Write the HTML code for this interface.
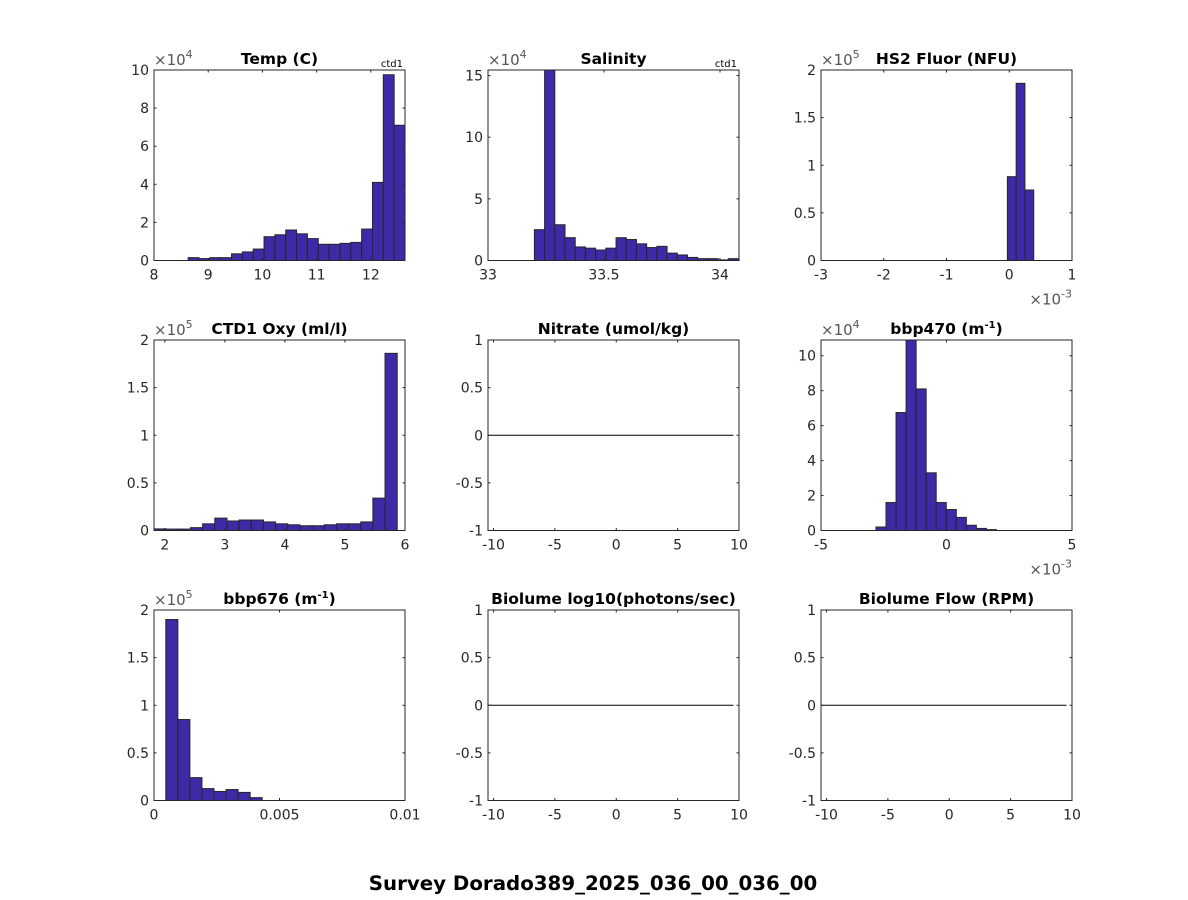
<!DOCTYPE html>
<html><head><meta charset="utf-8"><style>
body{margin:0;background:#fff;}
svg{display:block;font-family:"DejaVu Sans","Liberation Sans",sans-serif;}
</style></head><body>
<svg id="fig" width="1188" height="900" viewBox="0 0 1188 900" xmlns="http://www.w3.org/2000/svg">
<rect width="1188" height="900" fill="#fff"/>
<text x="593" y="890" text-anchor="middle" font-size="19.8" font-weight="bold" fill="#000">Survey Dorado389_2025_036_00_036_00</text>
</svg>
<script>
// ---- data ----
const tempStart = 8.63, tempWidth = 0.2;
const tempCounts = [0.15,0.1,0.15,0.15,0.35,0.45,0.6,1.25,1.35,1.6,1.4,1.15,0.85,0.85,0.9,0.95,1.65,4.1,9.75,7.1];
const salStart = 33.2, salWidth = 0.044;
const salCounts = [2.5,15.45,2.9,1.85,1.1,1.0,0.85,1.0,1.85,1.7,1.35,1.05,1.15,0.6,0.45,0.25,0.15,0.15,0.05,0.15];
const fluorStart = -0.03, fluorWidth = 0.14;
const fluorCounts = [0.88,1.86,0.74];
const oxyStart = 1.82, oxyWidth = 0.2025;
const oxyCounts = [0.017,0.015,0.015,0.03,0.07,0.13,0.1,0.11,0.11,0.09,0.07,0.06,0.05,0.05,0.06,0.07,0.07,0.09,0.34,1.86];
const b470Start = -2.81, b470Width = 0.4;
const b470Counts = [0.2,1.6,6.75,10.9,8.1,3.3,1.6,1.2,0.75,0.3,0.12,0.05];
const b676Start = 0.47, b676Width = 0.48;
const b676Counts = [1.9,0.85,0.24,0.125,0.095,0.115,0.085,0.03];
const tempXTicks = ["8","9","10","11","12"];
const salXTicks = ["33","33.5","34"];
const fluorXTicks = ["-3","-2","-1","0","1"];
const oxyXTicks = ["2","3","4","5","6"];
const b470XTicks = ["-5","0","5"];
const b676XTicks = ["0","0.005","0.01"];
const emptyXTicks = ["-10","-5","0","5","10"];
const y10Ticks = ["0","2","4","6","8","10"];
const y15Ticks = ["0","5","10","15"];
const y2Ticks = ["0","0.5","1","1.5","2"];
const yEmptyTicks = ["-1","-0.5","0","0.5","1"];

const NS="http://www.w3.org/2000/svg";
const svg=document.getElementById('fig');
function mk(tag,attrs,parent){const e=document.createElementNS(NS,tag);for(const k in attrs)e.setAttribute(k,attrs[k]);(parent||svg).appendChild(e);return e;}

const cols=[154,488,821], rows=[70,340,610], W=251, H=190.5;

function panel(o){
  const L=cols[o.c], T=rows[o.r], R=L+W, B=T+H;
  const g=mk('g',{});
  
  
  const sx=v=>L+(v-o.xmin)/(o.xmax-o.xmin)*W;
  const sy=v=>B-(v-o.ymin)/(o.ymax-o.ymin)*H;
  mk('rect',{x:L,y:T,width:W,height:H,fill:'#fff'},g);
  if(o.counts){
    o.counts.forEach((c,i)=>{
      const x0=sx(o.start+i*o.width), x1=sx(o.start+(i+1)*o.width);
      const y=sy(Math.min(c,o.ymax));
      const r=mk('rect',{x:x0,y:y,width:x1-x0,height:B-y,fill:'#3d2aa7',stroke:'#262626','stroke-width':1},g);
      
      
    });
  }
  if(o.empty){
    const ln=mk('line',{x1:sx(-10.45),x2:sx(9.55),y1:sy(0),y2:sy(0),stroke:'#000','stroke-width':1},g);
    
    
  }
  mk('rect',{x:L,y:T,width:W,height:H,fill:'none',stroke:'#262626','stroke-width':1},g);
  o.xticks.forEach(t=>{
    const v=parseFloat(t)*(o.xscale||1), x=sx(v);
    mk('line',{x1:x,x2:x,y1:B,y2:B-2.5,stroke:'#262626'},g);
    mk('line',{x1:x,x2:x,y1:T,y2:T+2.5,stroke:'#262626'},g);
    const tx=mk('text',{x:x,y:B+19,'text-anchor':'middle','font-size':14,fill:'#262626'},g);
    tx.textContent=t;
    
    
  });
  o.yticks.forEach(t=>{
    const v=parseFloat(t), y=sy(v);
    mk('line',{x1:L,x2:L+2.5,y1:y,y2:y,stroke:'#262626'},g);
    mk('line',{x1:R,x2:R-2.5,y1:y,y2:y,stroke:'#262626'},g);
    const tx=mk('text',{x:L-5,y:y+5,'text-anchor':'end','font-size':14,fill:'#262626'},g);
    tx.textContent=t;
    
    
  });
  const ti=mk('text',{x:L+W/2,y:T-6,'text-anchor':'middle','font-size':15.5,'font-weight':'bold',fill:'#000'},g);
  ti.innerHTML=o.title;
  
  
  if(o.yexp){
    const e=mk('text',{x:L,y:T-5,'font-size':15,fill:'#555'},g);
    e.innerHTML='×10<tspan dy="-7" font-size="11">'+o.yexp+'</tspan>';
    
    
  }
  if(o.xexp){
    const e=mk('text',{x:R,y:B+44,'text-anchor':'end','font-size':15,fill:'#555'},g);
    e.innerHTML='×10<tspan dy="-7" font-size="11">'+o.xexp+'</tspan>';
    
    
  }
  if(o.ctd){
    const e=mk('text',{x:R-2,y:T-3,'text-anchor':'end','font-size':10,fill:'#000'},g);
    e.textContent='ctd1';
    
    
  }
}
panel({name:'temp',r:0,c:0,xmin:8,xmax:12.63,ymin:0,ymax:10,start:tempStart,width:tempWidth,counts:tempCounts,xticks:tempXTicks,yticks:y10Ticks,title:'Temp (C)',yexp:'4',ctd:true});
panel({name:'salinity',r:0,c:1,xmin:33,xmax:34.082,ymin:0,ymax:15.45,start:salStart,width:salWidth,counts:salCounts,xticks:salXTicks,yticks:y15Ticks,title:'Salinity',yexp:'4',ctd:true});
panel({name:'hs2-fluor',r:0,c:2,xmin:-3,xmax:1,ymin:0,ymax:2,start:fluorStart,width:fluorWidth,counts:fluorCounts,xticks:fluorXTicks,yticks:y2Ticks,title:'HS2 Fluor (NFU)',yexp:'5',xexp:'-3'});
panel({name:'ctd1-oxy',r:1,c:0,xmin:1.82,xmax:6,ymin:0,ymax:2,start:oxyStart,width:oxyWidth,counts:oxyCounts,xticks:oxyXTicks,yticks:y2Ticks,title:'CTD1 Oxy (ml/l)',yexp:'5'});
panel({name:'nitrate',r:1,c:1,xmin:-10.45,xmax:10,ymin:-1,ymax:1,empty:true,xticks:emptyXTicks,yticks:yEmptyTicks,title:'Nitrate (umol/kg)'});
panel({name:'bbp470',r:1,c:2,xmin:-5,xmax:5,ymin:0,ymax:10.9,start:b470Start,width:b470Width,counts:b470Counts,xticks:b470XTicks,yticks:y10Ticks,title:'bbp470 (m<tspan dy="-6" font-size="10">-1</tspan><tspan dy="6">)</tspan>',yexp:'4',xexp:'-3'});
panel({name:'bbp676',r:2,c:0,xmin:0,xmax:10,xscale:1000,ymin:0,ymax:2,start:b676Start,width:b676Width,counts:b676Counts,xticks:b676XTicks,yticks:y2Ticks,title:'bbp676 (m<tspan dy="-6" font-size="10">-1</tspan><tspan dy="6">)</tspan>',yexp:'5'});
panel({name:'biolume',r:2,c:1,xmin:-10.45,xmax:10,ymin:-1,ymax:1,empty:true,xticks:emptyXTicks,yticks:yEmptyTicks,title:'Biolume log10(photons/sec)'});
panel({name:'biolume-flow',r:2,c:2,xmin:-10.45,xmax:10,ymin:-1,ymax:1,empty:true,xticks:emptyXTicks,yticks:yEmptyTicks,title:'Biolume Flow (RPM)'});
</script>
</body></html>
